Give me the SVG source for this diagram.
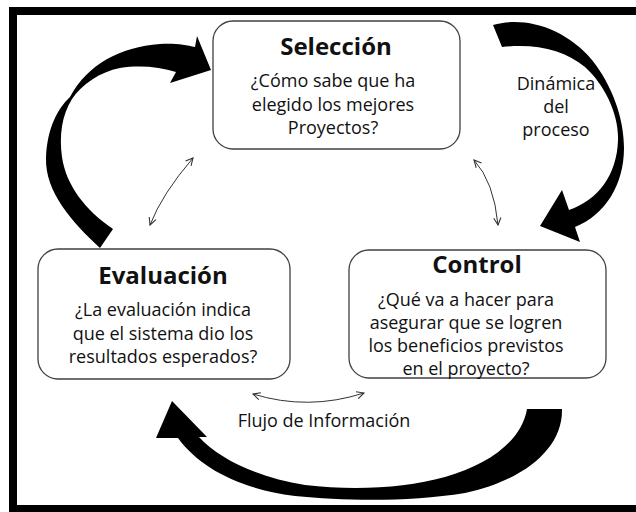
<svg xmlns="http://www.w3.org/2000/svg" width="636" height="512" viewBox="0 0 636 512">
<style>
.box{fill:#fff;stroke:#404040;stroke-width:1.3}
.t{font-family:"Open Sans","Liberation Sans",sans-serif;font-weight:bold;font-size:24px;fill:#111;text-anchor:middle}
.b{font-family:"Open Sans","Liberation Sans",sans-serif;font-size:18px;fill:#111;text-anchor:middle}
.big{fill:#000}
.thin{fill:none;stroke:#333;stroke-width:1;marker-start:url(#v);marker-end:url(#v)}
</style>
<defs>
<marker id="v" viewBox="0 0 10 10" refX="9" refY="5" markerWidth="9" markerHeight="9" markerUnits="userSpaceOnUse" orient="auto-start-reverse">
<path d="M1,1 L9,5 L1,9" fill="none" stroke="#333" stroke-width="1.2"/>
</marker>
</defs>
<rect x="0" y="0" width="636" height="512" fill="#fff"/>
<rect x="13" y="11" width="640" height="498" fill="none" stroke="#000" stroke-width="8"/>
<g id="connectors">
<path class="big" d="M100,248 C72,222 45,192 46,158 C47,128 58,108 70,97 C88,64 120,47 160,44 C175,43 186,45 195,47 L197,36 L211,70 L170,83 L176,72 C160,67 140,65 120,68 C100,72 82,84 72,99 C62,115 59,135 62,157 C66,185 85,210 113,229 Z"/>
<path class="big" d="M493,25 C525,16 565,28 592,60 C612,85 624,118 624,148 C624,185 605,215 575,227 L580,242 L540,226 L562,190 L569,210 C598,200 617,175 618,140 C619,115 605,85 585,67 C565,50 535,43 502,47 Z"/>
<path class="big" d="M562,409 C563,448 525,480 465,493 C410,502 345,501 295,496 C240,489 200,468 178,438 L156,438 L172,401 L207,437 L199,437 C220,460 260,478 305,485 C355,491 405,488 445,477 C490,464 522,440 527,409 Z"/>
<path class="thin" d="M150,225 Q162,194 193,158"/>
<path class="thin" d="M474,160 Q494,182 498,225"/>
<path class="thin" d="M253,394 Q308,411 364,393"/>
</g>
<g id="seleccion">
<rect class="box" x="213" y="21" width="247" height="128" rx="20"/>
<text class="t" x="336" y="55">Selección</text>
<text class="b" x="333" y="87">¿Cómo sabe que ha</text>
<text class="b" x="333" y="110.5">elegido los mejores</text>
<text class="b" x="333" y="134">Proyectos?</text>
</g>
<g id="evaluacion">
<rect class="box" x="38" y="249" width="252" height="130" rx="20"/>
<text class="t" x="163" y="284">Evaluación</text>
<text class="b" x="163" y="316">¿La evaluación indica</text>
<text class="b" x="163" y="340">que el sistema dio los</text>
<text class="b" x="163" y="363">resultados esperados?</text>
</g>
<g id="control">
<rect class="box" x="349" y="250" width="257" height="128" rx="20"/>
<text class="t" x="477" y="273">Control</text>
<text class="b" x="466" y="306">¿Qué va a hacer para</text>
<text class="b" x="466" y="329">asegurar que se logren</text>
<text class="b" x="466" y="352">los beneficios previstos</text>
<text class="b" x="466" y="375">en el proyecto?</text>
</g>
<g id="labels">
<text class="b" x="556" y="90">Dinámica</text>
<text class="b" x="556" y="113">del</text>
<text class="b" x="556" y="136">proceso</text>
<text class="b" x="324" y="427">Flujo de Información</text>
</g>
</svg>
